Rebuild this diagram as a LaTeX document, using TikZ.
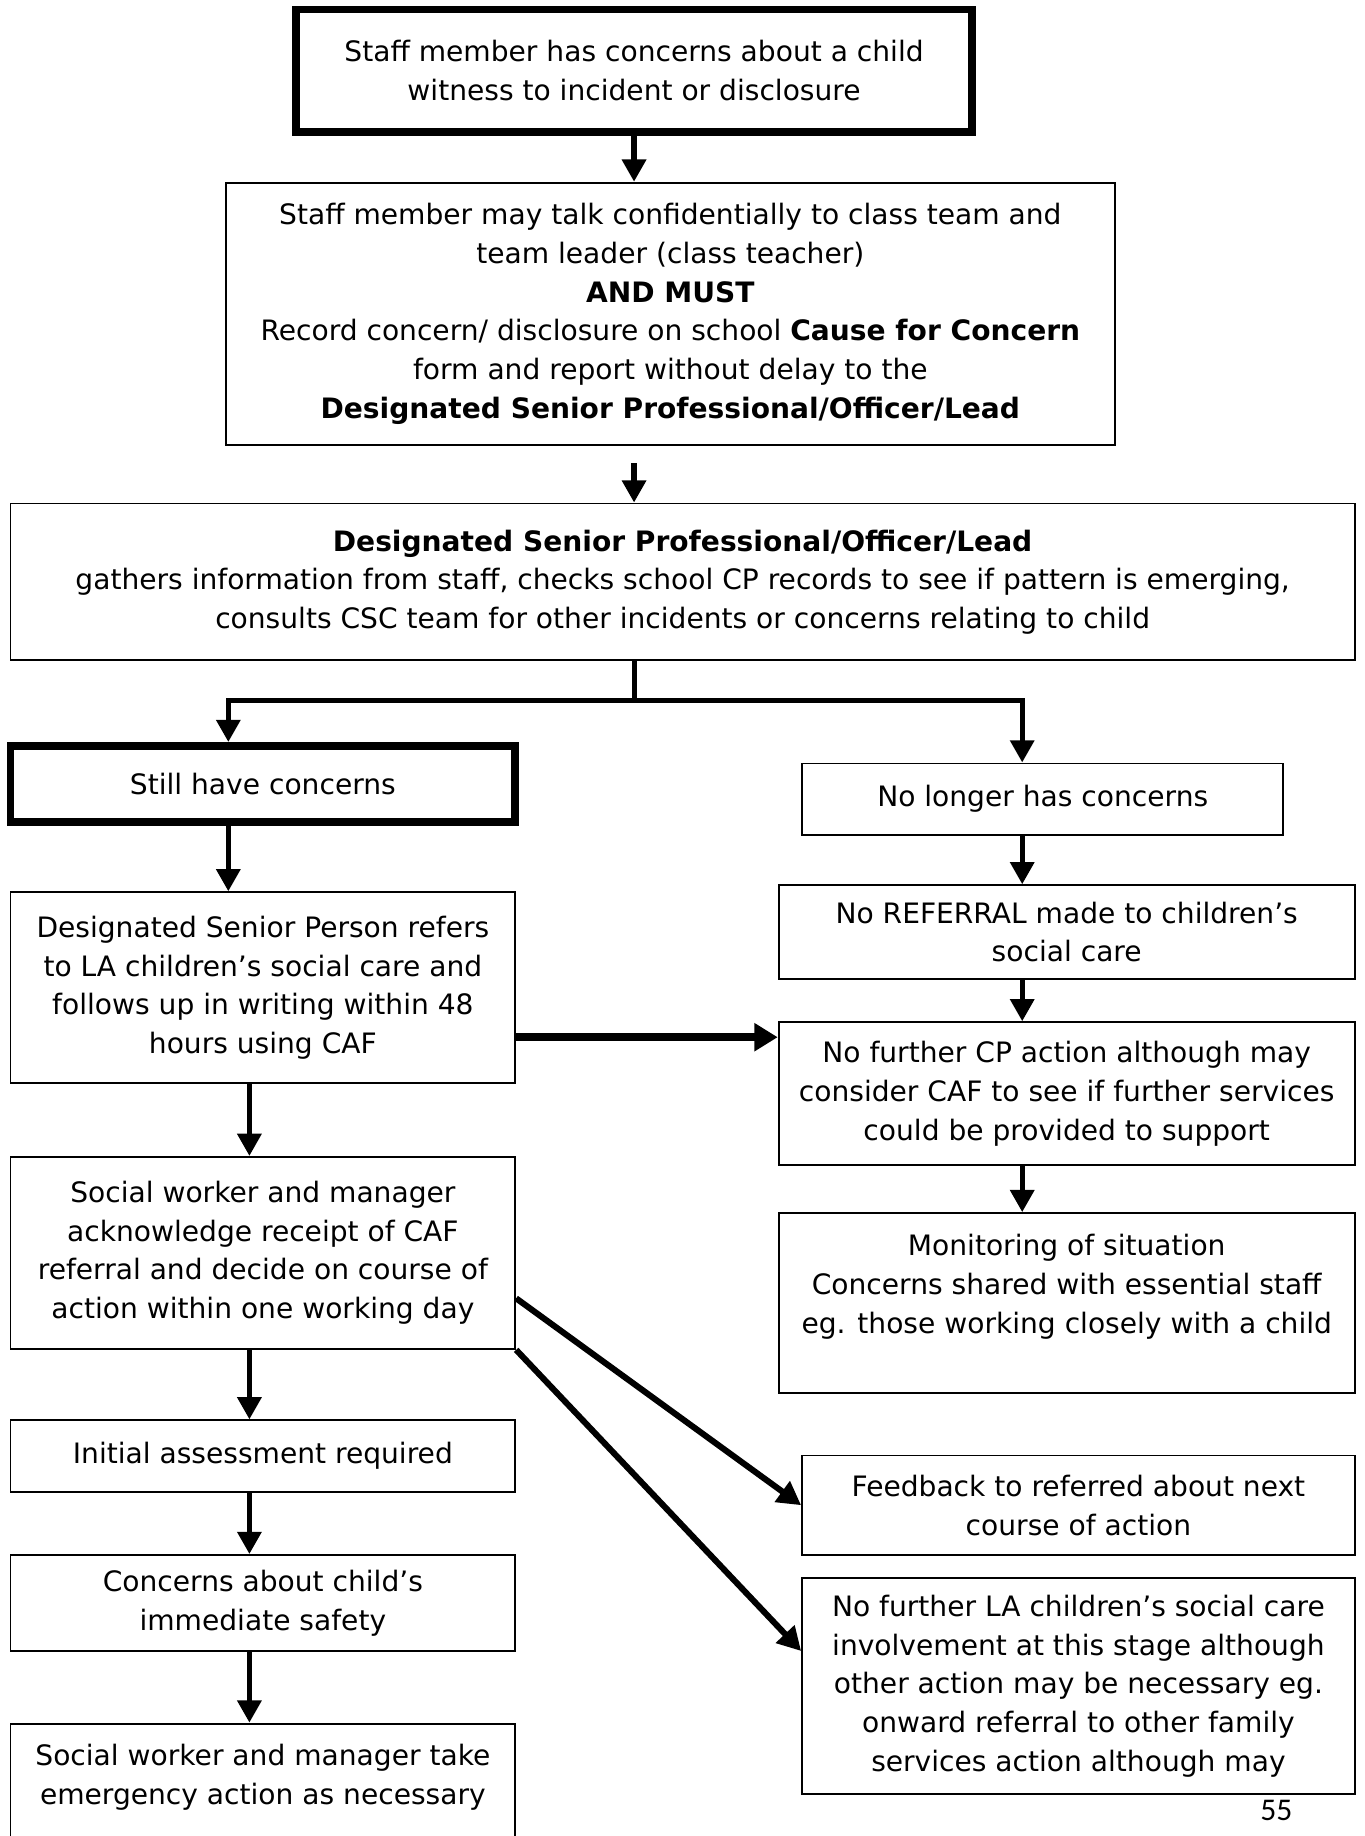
\documentclass[tikz,border=0pt]{standalone}
\usepackage{fontspec}
\setmainfont{DejaVu Sans}
\newfontfamily\pagenumfont{Carlito}
\usetikzlibrary{arrows.meta,calc}
\tikzset{
    box/.style={draw,line width=0.8pt,align=center,inner sep=0pt,font=\fontsize{12}{16.5}\selectfont},
    heavybox/.style={box,line width=3.3pt},
    arr/.style={line width=2.25pt,-{Triangle[length=9.5pt,width=10pt]}},
    widearr/.style={line width=3.5pt,-{Triangle[length=10pt,width=11.5pt]}},
    slantarr/.style={line width=2.6pt,-{Triangle[length=10pt,width=10.5pt]}}
}

\begin{document}
\begin{tikzpicture}[x=0.5pt,y=-0.5pt]
                            \useasboundingbox (0,0) rectangle (1165,1568);
                            % top of the chart
                            \node[heavybox,minimum width=288.5pt,minimum height=52.5pt] (staff) at (541.5,60.5) {Staff member has concerns about a child\\witness to incident or disclosure};
                            \node[box,minimum width=379.5pt,minimum height=112pt] (talk) at (572.5,268) {Staff member may talk confidentially to class team and\\team leader (class teacher)\\\textbf{AND MUST}\\Record concern/ disclosure on school \textbf{Cause for Concern}\\form and report without delay to the\\\textbf{Designated Senior Professional/Officer/Lead}};
                            \node[box,minimum width=574pt,minimum height=67pt] (lead) at (583,497) {\textbf{Designated Senior Professional/Officer/Lead}\\gathers information from staff, checks school CP records to see if pattern is emerging,\\consults CSC team for other incidents or concerns relating to child};
                            % left column
                            \node[heavybox,minimum width=215.5pt,minimum height=32.5pt] (still) at (224.5,669.5) {Still have concerns};
                            \node[box,minimum width=215.5pt,minimum height=81.5pt] (refers) at (224.5,843.5) {Designated Senior Person refers\\to LA children’s social care and\\follows up in writing within 48\\hours using CAF};
                            \node[box,minimum width=215.5pt,minimum height=82pt] (ackn) at (224.5,1070) {Social worker and manager\\acknowledge receipt of CAF\\referral and decide on course of\\action within one working day};
                            \node[box,minimum width=215.5pt,minimum height=30.5pt] (initial) at (224.5,1243.5) {Initial assessment required};
                            \node[box,minimum width=215.5pt,minimum height=41pt] (safety) at (224.5,1369) {Concerns about child’s\\immediate safety};
                            \node[box,minimum width=215.5pt,minimum height=60pt] (emergency) at (224.5,1532) {Social worker and manager take\\emergency action as necessary\\~};
                            % right column
                            \node[box,minimum width=205.5pt,minimum height=30.5pt] (nolonger) at (890.5,682.5) {No longer has concerns};
                            \node[box,minimum width=246pt,minimum height=40pt] (noref) at (911,796) {No REFERRAL made to children’s\\social care};
                            \node[box,minimum width=246pt,minimum height=61pt] (nocp) at (911,934) {No further CP action although may\\consider CAF to see if further services\\could be provided to support};
                            \node[box,minimum width=246pt,minimum height=77pt] (monitor) at (911,1113) {Monitoring of situation\\Concerns shared with essential staff\\eg. those working closely with a child\\~};
                            \node[box,minimum width=236pt,minimum height=42.5pt] (feedback) at (921,1285.5) {Feedback to referred about next\\course of action};
                            \node[box,minimum width=236pt,minimum height=92pt] (nola) at (921,1440) {No further LA children’s social care\\involvement at this stage although\\other action may be necessary eg.\\onward referral to other family\\services action although may};
                            \node[font=\pagenumfont\fontsize{13.5}{15}\selectfont] (pagenum) at (1090,1546) {55};
                            % arrows
                            \coordinate (split) at (542,598);
                            \coordinate (leftline) at (195,598);
                            \coordinate (midline) at (213,598);
                            \coordinate (rightline) at (873,598);
                            \coordinate (caf) at ($(refers.south east)+(0,-40)$);
                            \draw[arr] (staff.south) -- (staff.south |- talk.north);
                            \draw[arr] ($(talk.south -| staff.south)+(0,15)$) -- (staff.south |- lead.north);
                            \draw[line width=2.25pt] (lead.south -| split) -- (split);
                            \draw[arr] (split) -| (leftline |- still.north);
                            \draw[arr] (split) -| (rightline |- nolonger.north);
                            \draw[arr] (leftline |- still.south) -- (leftline |- refers.north);
                            \draw[arr] (rightline |- nolonger.south) -- (rightline |- noref.north);
                            \draw[arr] (rightline |- noref.south) -- (rightline |- nocp.north);
                            \draw[arr] (rightline |- nocp.south) -- (rightline |- monitor.north);
                            \draw[widearr] (caf) -- (caf -| nocp.west);
                            \draw[arr] (midline |- refers.south) -- (midline |- ackn.north);
                            \draw[arr] (midline |- ackn.south) -- (midline |- initial.north);
                            \draw[arr] (midline |- initial.south) -- (midline |- safety.north);
                            \draw[arr] (midline |- safety.south) -- (midline |- emergency.north);
                            \draw[slantarr] ($(ackn.south east)+(0,-44)$) -- (feedback.west);
                            \draw[slantarr] (ackn.south east) -- ($(nola.west)+(0,-30)$);
                        \end{tikzpicture}
\end{document}
